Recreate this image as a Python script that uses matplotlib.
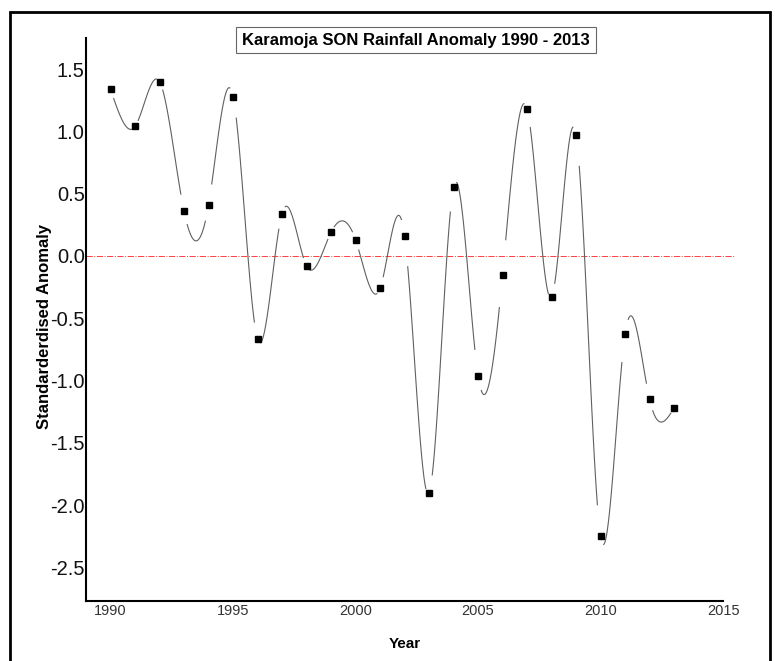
import numpy as np
import matplotlib
matplotlib.use('Agg')
import matplotlib.pyplot as plt
from matplotlib.patches import Rectangle

plt.rcParams['font.family'] = ['Liberation Sans', 'DejaVu Sans']

# Data: standardised SON rainfall anomaly, Karamoja
years = [1990, 1991, 1992, 1993, 1994, 1995, 1996, 1997, 1998, 1999, 2000, 2001,
         2002, 2003, 2004, 2005, 2006, 2007, 2008, 2009, 2010, 2011, 2012, 2013]
anomaly = [1.34, 1.04, 1.40, 0.36, 0.41, 1.28, -0.67, 0.34, -0.08, 0.19, 0.13, -0.26,
           0.16, -1.90, 0.55, -0.96, -0.15, 1.18, -0.33, 0.97, -2.25, -0.63, -1.15, -1.22]
x_ticks = [1990, 1995, 2000, 2005, 2010, 2015]
y_ticks = [-2.5, -2.0, -1.5, -1.0, -0.5, 0.0, 0.5, 1.0, 1.5]

x = np.array(years, dtype=float)
y = np.array(anomaly)

# natural cubic spline (second derivatives), uniform spacing
n = len(x)
A = np.zeros((n, n))
b = np.zeros(n)
A[0, 0] = 1
A[-1, -1] = 1
for i in range(1, n - 1):
    A[i, i - 1] = 1
    A[i, i] = 4
    A[i, i + 1] = 1
    b[i] = 6 * (y[i + 1] - 2 * y[i] + y[i - 1])
M = np.linalg.solve(A, b)

fig = plt.figure(figsize=(7.75, 6.61), dpi=100)
ax = fig.add_axes([0.111, 0.0908, 0.822, 0.8517])

# spline drawn piece by piece, with small breaks near the points
trim = 0.13
for i in range(n - 1):
    u = np.linspace(trim, 1 - trim, 40)
    s = (y[i] * (1 - u) + y[i + 1] * u
         + ((1 - u) ** 3 - (1 - u)) * M[i] / 6 + (u ** 3 - u) * M[i + 1] / 6)
    ax.plot(x[i] + u, s, color='#606060', lw=0.8, zorder=2)

ax.plot(x, y, 's', color='black', ms=5, zorder=3)

# zero line
ax.plot([1989, 2015.5], [0, 0], color='#ff4040', lw=0.7, ls='-.', clip_on=False, zorder=1)

ax.set_xlim(1989, 2015)
ax.set_ylim(-2.77, 1.75)
ax.set_xticks(x_ticks)
ax.set_yticks(y_ticks)
ax.set_yticklabels(['%.1f' % v for v in y_ticks], fontsize=14.5, color='#111111')
ax.set_xticklabels([str(v) for v in x_ticks], fontsize=10.5, color='#333333')
ax.tick_params(axis='y', length=0, pad=1)
ax.tick_params(axis='x', length=0, pad=2)

for side in ['top', 'right']:
    ax.spines[side].set_visible(False)
for side in ['left', 'bottom']:
    ax.spines[side].set_linewidth(1.5)

ax.set_ylabel('Standarderdised Anomaly', fontsize=12, fontweight='bold')
ax.yaxis.set_label_coords(-0.053, 0.487)
ax.set_xlabel('Year', fontsize=11, fontweight='bold')
ax.xaxis.set_label_coords(0.5, -0.064)

fig.text(416 / 775, 1 - 40 / 661, 'Karamoja SON Rainfall Anomaly 1990 - 2013',
         fontsize=12, fontweight='bold', ha='center', va='center',
         bbox=dict(boxstyle='square,pad=0.35', fc='white', ec='#666666', lw=0.8))

# outer frame
fig.patches.append(Rectangle((10 / 775, -0.05), 760 / 775, 1 - 12 / 661 + 0.05,
                             transform=fig.transFigure, fill=False, ec='black', lw=2))

fig.savefig('out.png', dpi=100)
